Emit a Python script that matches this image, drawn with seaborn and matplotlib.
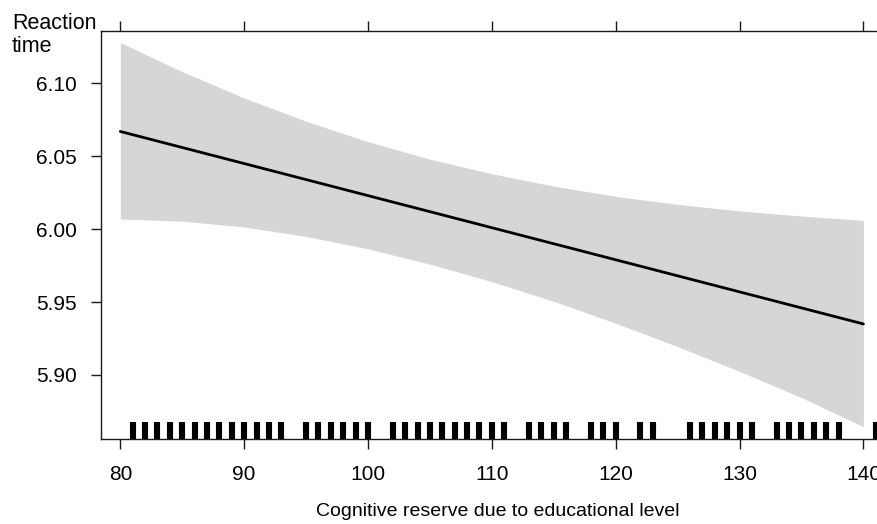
import matplotlib
matplotlib.use("Agg")
import matplotlib.pyplot as plt
import seaborn as sns
import pandas as pd

# ---- data ----
grid_x = [80, 85, 90, 95, 100, 105, 110, 115, 120, 125, 130, 135, 140]
fit_y = [6.067, 6.056, 6.045, 6.034, 6.023, 6.012, 6.001, 5.990, 5.979, 5.968, 5.957, 5.946, 5.935]
upper_y = [6.128, 6.108, 6.090, 6.074, 6.060, 6.048, 6.038, 6.0295, 6.0225, 6.017, 6.0125, 6.009, 6.006]
lower_y = [6.007, 6.0055, 6.0015, 5.995, 5.9865, 5.976, 5.964, 5.9505, 5.9355, 5.9195, 5.9025, 5.8845, 5.8645]

rug_x = [81, 82, 83, 84, 85, 86, 87, 88, 89, 90, 91, 92, 93,
         95, 96, 97, 98, 99, 100,
         102, 103, 104, 105, 106, 107, 108, 109, 110, 111,
         113, 114, 115, 116,
         118, 119, 120,
         122, 123,
         126, 127, 128, 129, 130, 131,
         133, 134, 135, 136, 137, 138,
         141]

x_ticks = [80, 90, 100, 110, 120, 130, 140]
y_ticks = [5.90, 5.95, 6.00, 6.05, 6.10]
x_label = "Cognitive reserve due to educational level"
y_label = "Reaction\ntime"

# ---- styling ----
sns.set_theme(style="white")
plt.rcParams['font.family'] = ['Liberation Sans', 'DejaVu Sans']

W, H = 878, 524
fig = plt.figure(figsize=(W / 100, H / 100), dpi=100)
left, right, top, bottom = 101, 895, 31, 439
ax = fig.add_axes([left / W, 1 - bottom / H, (right - left) / W, (bottom - top) / H])

band = pd.DataFrame({"x": grid_x, "fit": fit_y, "lo": lower_y, "hi": upper_y})
ax.fill_between(band["x"], band["lo"], band["hi"], color="#d6d6d6", linewidth=0)
sns.lineplot(data=band, x="x", y="fit", color="black", linewidth=2.0, ax=ax)

sns.rugplot(x=rug_x, height=0.042, linewidth=4.4, color="black", ax=ax,
            expand_margins=False)

ax.set_xlim(78.44, 142.55)
ax.set_ylim(5.8561, 6.1359)
ax.set_xticks(x_ticks)
ax.set_xticklabels([str(v) for v in x_ticks])
ax.set_yticks(y_ticks)
ax.set_yticklabels([f"{v:.2f}" for v in y_ticks])

for s in ["left", "top", "bottom"]:
    ax.spines[s].set_visible(True)
    ax.spines[s].set_color("#1a1a1a")
    ax.spines[s].set_linewidth(1.0)
ax.spines["right"].set_visible(False)

ax.tick_params(axis="both", direction="out", length=7.5, width=1.0,
               color="#1a1a1a", labelsize=15, labelcolor="black")
ax.tick_params(axis="x", top=True, labeltop=False, bottom=True, pad=11)
ax.tick_params(axis="y", left=True, right=False, pad=10)

ax.set_xlabel(x_label, fontsize=14, labelpad=14, color="black")
ax.set_ylabel("")
fig.text(12 / W, 1 - 13 / H, y_label, ha="left", va="top", fontsize=15.5,
         linespacing=1.1, color="black")

fig.savefig("out.png", dpi=100)
